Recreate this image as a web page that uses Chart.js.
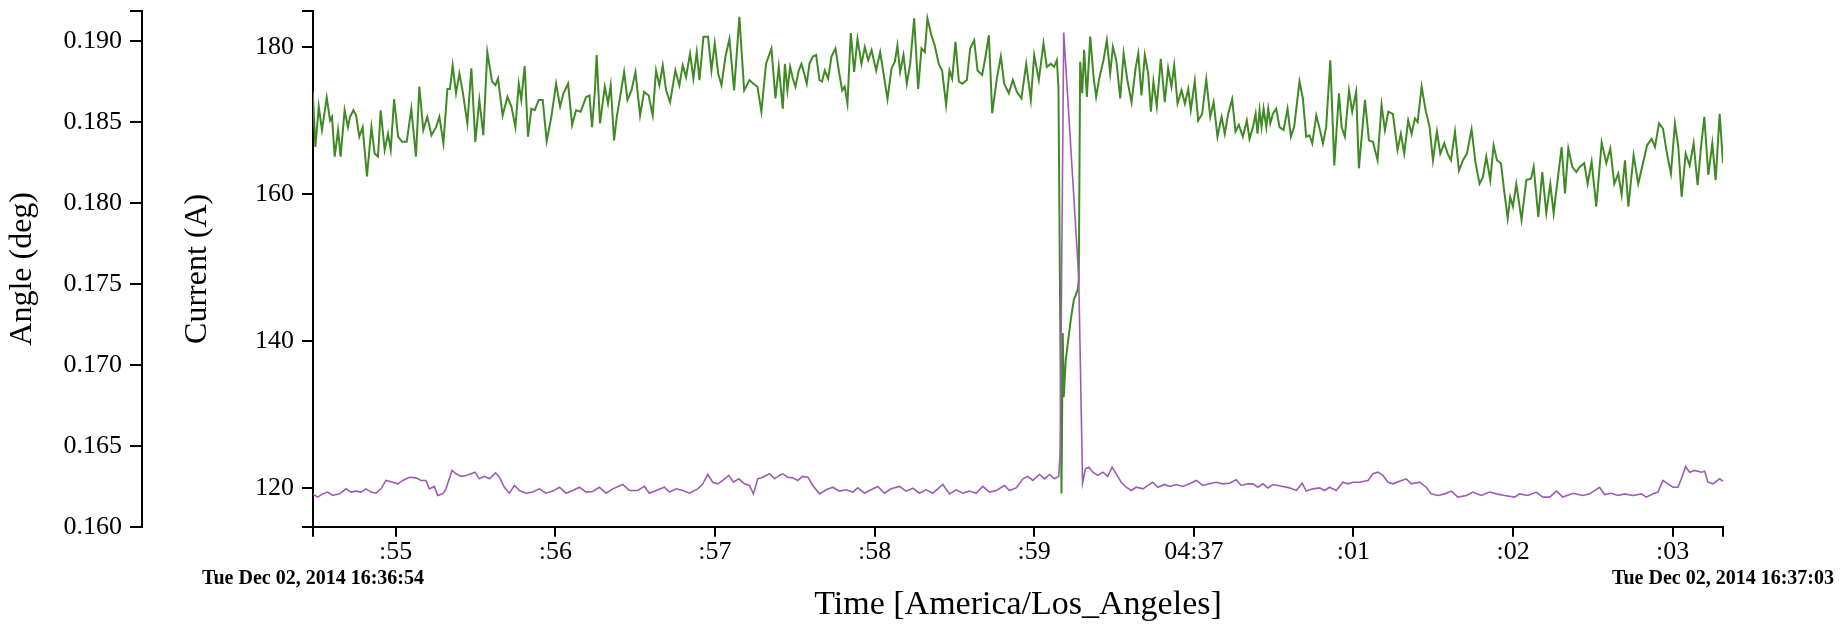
<!DOCTYPE html>
<html>
<head>
<meta charset="utf-8">
<script src="https://cdn.jsdelivr.net/npm/chart.js@4.4.1/dist/chart.umd.min.js"></script>
<style>
html,body{margin:0;padding:0;background:#fff;}
#wrap{width:1842px;height:624px;position:relative;}
</style>
</head>
<body>
<div id="wrap"><canvas id="c" width="1842" height="624"></canvas></div>
<script>
// ---- data (time in seconds after 16:36:00) ----
const xMin = 54.482, xMax = 63.315;
const xTickValues = [55, 56, 57, 58, 59, 60, 61, 62, 63];
const xTickLabels = [':55', ':56', ':57', ':58', ':59', '04:37', ':01', ':02', ':03'];
const dateLabels = ['Tue Dec 02, 2014 16:36:54', 'Tue Dec 02, 2014 16:37:03'];

const currentMin = 114.78, currentMax = 184.89;
const currentTicks = [120, 140, 160, 180];
const angleMin = 0.160, angleMax = 0.19188;
const angleTicks = [0.160, 0.165, 0.170, 0.175, 0.180, 0.185, 0.190];

const currentTimes = [
54.480,54.497,54.518,54.538,54.568,54.589,54.601,54.618,54.639,54.655,54.680,54.701,54.714,54.735,54.752,54.772,54.793,54.820,54.848,54.868,
54.889,54.906,54.931,54.952,54.969,54.990,55.015,55.040,55.069,55.098,55.127,55.148,55.173,55.198,55.224,55.253,55.274,55.299,55.324,55.340,
55.357,55.378,55.399,55.420,55.449,55.474,55.499,55.524,55.549,55.574,55.604,55.625,55.641,55.670,55.700,55.725,55.750,55.771,55.787,55.808,
55.829,55.850,55.871,55.896,55.921,55.946,55.975,56.005,56.030,56.051,56.080,56.105,56.130,56.159,56.193,56.214,56.230,56.247,56.259,56.280,
56.310,56.330,56.347,56.368,56.385,56.406,56.431,56.452,56.477,56.502,56.531,56.556,56.585,56.610,56.631,56.652,56.673,56.694,56.719,56.752,
56.777,56.798,56.819,56.844,56.865,56.886,56.903,56.928,56.957,56.978,56.999,57.020,57.041,57.066,57.091,57.120,57.153,57.183,57.216,57.241,
57.266,57.291,57.320,57.354,57.379,57.400,
57.425,57.438,57.454,57.471,57.488,57.504,57.525,57.542,57.559,57.575,57.592,57.613,57.634,57.655,57.671,57.688,57.709,57.730,57.755,57.776,
57.797,57.813,57.830,57.851,57.872,57.893,57.918,57.939,57.960,57.981,58.010,58.035,58.056,58.081,58.106,58.127,58.143,58.160,58.181,58.202,
58.223,58.248,58.273,58.294,58.315,58.331,58.356,58.377,58.402,58.423,58.448,58.469,58.486,58.507,58.528,58.549,58.578,58.599,58.624,58.645,
58.674,58.695,58.716,58.737,58.766,58.791,58.812,58.841,58.866,58.891,58.920,58.950,58.979,59.000,59.029,59.058,59.079,59.104,59.125,59.142,
59.152,59.171,59.179,59.185,59.198,59.211,59.229,59.248,59.273,59.279,59.288,59.301,59.313,59.330,59.351,59.372,59.388,59.409,59.434,59.455,
59.476,59.493,59.514,59.539,59.560,59.585,59.610,59.635,59.652,59.672,59.693,59.714,59.731,59.747,59.768,59.793,59.818,59.839,59.860,59.877,
59.898,59.923,59.944,59.965,59.981,60.006,60.027,60.052,60.078,60.103,60.124,60.148,60.174,60.194,60.215,60.240,60.261,60.282,60.307,60.332,
60.349,60.370,
60.387,60.399,60.412,60.424,60.437,60.454,60.466,60.479,60.495,60.516,60.537,60.562,60.587,60.608,60.629,60.662,60.683,60.704,60.725,60.742,
60.767,60.788,60.809,60.829,60.855,60.880,60.909,60.926,60.946,60.972,60.992,61.017,61.034,61.072,61.097,61.122,61.151,61.176,61.197,61.218,
61.247,61.276,61.297,61.318,61.343,61.364,61.385,61.402,61.427,61.452,61.477,61.498,61.523,61.544,61.569,61.590,61.611,61.636,61.661,61.686,
61.711,61.740,61.765,61.790,61.811,61.832,61.857,61.878,61.899,61.924,61.945,61.966,61.982,61.999,62.020,62.053,62.083,62.112,62.129,62.158,
62.183,62.208,62.233,62.254,62.279,62.304,62.325,62.346,62.371,62.396,62.417,62.446,62.467,62.492,62.521,62.555,62.584,62.609,62.634,62.659,
62.680,62.701,62.722,62.755,62.784,62.818,62.839,62.868,62.889,62.914,62.939,62.964,62.989,63.014,63.035,63.056,63.081,63.106,63.131,63.156,
63.177,63.198,63.223,63.248,63.269,63.294,63.315
];
const currentValues = [
174.1,166.4,171.9,168.7,173.1,170.0,170.5,165.1,168.7,165.1,171.4,169.1,170.5,171.4,170.7,167.8,169.1,162.4,169.1,165.5,
165.1,171.4,166.0,168.2,166.0,172.9,167.8,167.1,167.1,171.6,165.1,174.6,168.7,170.5,168.0,169.1,170.5,166.9,174.3,174.3,
177.5,173.7,176.4,173.9,169.6,177.1,167.1,172.8,168.0,179.3,175.3,174.8,175.7,170.7,173.2,171.9,169.1,175.0,172.8,177.4,
167.8,171.6,171.4,172.8,172.8,167.2,170.5,175.0,171.9,173.7,175.0,169.4,171.4,171.2,173.2,173.4,169.1,173.7,178.9,169.6,
174.6,172.3,174.8,167.3,170.5,173.2,176.6,172.8,174.1,176.6,170.7,173.9,173.4,170.7,176.8,174.8,177.5,174.1,172.5,176.8,
174.8,177.5,175.9,179.1,175.7,179.3,175.5,181.4,181.4,176.8,180.5,176.4,174.8,178.7,181.1,174.1,184.1,174.1,175.5,175.0,
174.6,171.2,177.7,179.8,173.0,177.3,
171.6,177.7,174.1,177.3,175.7,174.6,176.8,177.7,176.4,175.0,177.7,178.7,178.9,175.5,175.3,176.8,175.7,178.7,179.8,176.8,
174.1,174.6,172.3,181.9,176.6,181.1,177.7,180.0,178.2,179.6,176.8,179.3,176.4,172.9,177.1,178.0,180.2,176.6,178.9,175.0,
177.7,183.9,174.3,179.8,179.3,183.9,181.6,180.2,177.7,176.8,172.1,176.8,175.7,180.7,175.3,175.0,175.5,179.8,180.9,176.8,
176.2,178.7,181.6,171.0,175.7,178.7,175.0,173.7,175.5,173.9,173.0,177.7,172.8,178.9,175.5,180.5,177.3,177.7,177.3,178.2,
174.5,119.3,141.1,132.4,137.5,139.8,142.9,145.6,147.0,148.3,178.0,173.7,179.6,173.2,181.4,175.9,173.2,175.9,178.2,180.9,
176.4,180.0,178.2,173.0,179.1,175.3,172.5,177.1,179.1,173.4,178.9,176.4,171.2,175.3,171.9,178.4,172.5,177.1,174.6,177.5,
172.3,174.1,172.3,174.3,171.4,175.4,170.0,170.9,175.6,170.5,172.5,167.8,170.5,168.2,170.9,172.9,168.5,169.4,167.8,170.0,
167.5,169.1,
170.9,168.2,171.4,169.1,171.6,169.1,171.6,169.6,170.9,171.6,169.1,168.7,171.6,167.8,169.2,175.3,173.0,167.8,168.0,166.9,
170.7,168.9,166.9,169.1,178.2,163.9,173.7,169.1,167.8,174.1,171.2,173.9,163.5,172.8,167.3,167.1,164.6,172.1,168.7,171.2,
170.9,166.0,168.2,165.5,170.0,168.2,170.3,169.8,174.6,171.4,169.1,164.6,168.5,165.5,166.9,165.5,164.6,168.5,163.2,164.6,
165.5,168.8,164.2,161.4,162.3,165.1,161.9,166.6,164.6,164.2,160.3,156.7,159.6,158.3,161.4,156.5,161.9,162.1,163.7,156.9,
163.0,157.4,161.4,157.4,161.9,166.4,160.1,166.2,163.7,163.0,163.7,164.2,161.4,164.4,158.3,167.0,164.2,166.2,161.4,162.8,
159.9,164.6,158.3,165.3,161.4,164.6,166.6,167.5,166.4,169.6,168.9,165.5,162.8,169.6,166.4,159.6,165.5,163.9,166.9,161.2,
166.4,170.5,162.6,166.9,161.9,170.9,164.2
];

const angleTimes = [
54.480,54.511,54.543,54.574,54.605,54.647,54.689,54.720,54.752,54.783,54.814,54.846,54.877,54.908,54.939,54.981,55.013,55.044,55.086,55.127,
55.159,55.190,55.211,55.242,55.263,55.295,55.315,55.353,55.378,55.409,55.441,55.472,55.497,55.524,55.556,55.587,55.625,55.650,55.681,55.712,
55.744,55.775,55.817,55.858,55.900,55.942,55.984,56.026,56.067,56.109,56.151,56.193,56.234,56.276,56.318,56.360,56.422,56.464,56.516,56.558,
56.589,56.631,56.683,56.715,56.757,56.798,56.840,56.892,56.924,56.955,56.986,57.018,57.049,57.087,57.116,57.149,57.185,57.216,57.241,57.268,
57.300,57.341,57.373,57.404,57.425,
57.456,57.488,57.519,57.550,57.582,57.613,57.655,57.697,57.738,57.780,57.822,57.864,57.895,57.937,57.968,58.020,58.062,58.104,58.156,58.198,
58.240,58.281,58.323,58.365,58.428,58.469,58.511,58.553,58.595,58.636,58.678,58.720,58.762,58.814,58.845,58.887,58.929,58.960,58.991,59.033,
59.065,59.096,59.127,59.154,59.162,59.185,59.279,59.303,59.321,59.342,59.367,59.399,59.430,59.461,59.488,59.514,59.545,59.576,59.608,59.639,
59.681,59.712,59.743,59.775,59.816,59.848,59.889,59.931,59.973,60.015,60.057,60.098,60.140,60.182,60.224,60.265,60.297,60.339,60.370,
60.401,60.433,60.464,60.495,60.527,60.558,60.600,60.642,60.679,60.704,60.746,60.788,60.819,60.850,60.892,60.934,60.965,60.997,61.038,61.091,
61.122,61.153,61.185,61.216,61.247,61.289,61.331,61.362,61.414,61.456,61.487,61.529,61.571,61.613,61.654,61.707,61.748,61.801,61.853,61.895,
61.947,62.010,62.041,62.093,62.145,62.187,62.229,62.271,62.312,62.375,62.438,62.479,62.542,62.573,62.615,62.657,62.699,62.751,62.803,62.835,
62.876,62.908,62.939,62.970,63.002,63.033,63.054,63.081,63.106,63.137,63.179,63.200,63.221,63.252,63.294,63.315
];
const angleValues = [
.16203,.16183,.16203,.16214,.16193,.16203,.16234,.16214,.16220,.16214,.16234,.16214,.16207,.16234,.16286,.16275,.16265,.16286,.16306,.16302,
.16286,.16286,.16234,.16249,.16193,.16203,.16234,.16348,.16327,.16311,.16317,.16327,.16337,.16296,.16311,.16296,.16333,.16306,.16244,.16207,
.16255,.16224,.16207,.16214,.16234,.16207,.16220,.16244,.16207,.16224,.16244,.16214,.16218,.16244,.16207,.16234,.16261,.16224,.16224,.16249,
.16207,.16224,.16244,.16214,.16234,.16224,.16207,.16234,.16265,.16323,.16275,.16265,.16286,.16317,.16275,.16296,.16265,.16255,.16203,.16296,
.16306,.16327,.16296,.16317,.16327,
.16306,.16302,.16286,.16311,.16306,.16255,.16203,.16228,.16244,.16220,.16228,.16214,.16240,.16207,.16224,.16249,.16207,.16234,.16249,.16220,
.16238,.16207,.16228,.16207,.16261,.16203,.16228,.16207,.16220,.16207,.16249,.16214,.16224,.16255,.16224,.16240,.16296,.16311,.16286,.16323,
.16296,.16323,.16296,.16311,.16452,.19055,.17543,.16270,.16358,.16368,.16337,.16317,.16337,.16311,.16368,.16327,.16275,.16244,.16224,.16244,
.16234,.16255,.16275,.16244,.16261,.16249,.16261,.16249,.16265,.16286,.16255,.16265,.16275,.16265,.16269,.16290,.16255,.16265,.16265,
.16244,.16265,.16240,.16261,.16255,.16249,.16240,.16224,.16269,.16220,.16234,.16240,.16224,.16244,.16224,.16275,.16265,.16275,.16275,.16286,
.16327,.16337,.16317,.16275,.16265,.16281,.16296,.16265,.16275,.16244,.16203,.16193,.16203,.16220,.16183,.16193,.16214,.16193,.16214,.16203,
.16193,.16183,.16203,.16193,.16214,.16183,.16183,.16220,.16183,.16207,.16193,.16203,.16244,.16199,.16207,.16193,.16203,.16193,.16203,.16183,
.16203,.16214,.16286,.16265,.16244,.16244,.16296,.16372,.16337,.16348,.16337,.16343,.16275,.16265,.16296,.16281
];

// ---- chart ----
const SERIF = "'Liberation Serif', 'Times New Roman', serif";
const labelFrom = (vals, labels) => (v) => { const i = vals.indexOf(v); return i >= 0 ? labels[i] : ''; };
const noPad = (w, h) => (s) => {
  if (w !== null) s.width = w;
  if (h !== null) s.height = h;
  s.paddingTop = 0; s.paddingBottom = 0; s.paddingLeft = 0; s.paddingRight = 0;
};

new Chart(document.getElementById('c'), {
  type: 'line',
  data: {
    datasets: [
      {
        label: 'Angle',
        yAxisID: 'angle',
        xAxisID: 'x',
        data: angleTimes.map((t, i) => ({ x: t, y: angleValues[i] })),
        borderColor: '#9d5cb3',
        borderWidth: 1.6,
        pointRadius: 0,
        tension: 0,
        fill: false
      },
      {
        label: 'Current',
        yAxisID: 'current',
        xAxisID: 'x',
        data: currentTimes.map((t, i) => ({ x: t, y: currentValues[i] })),
        borderColor: '#3f8a25',
        borderWidth: 2,
        pointRadius: 0,
        tension: 0,
        fill: false
      }
    ]
  },
  options: {
    responsive: false,
    animation: false,
    devicePixelRatio: 1,
    layout: { padding: { left: 0, right: 119, top: 11, bottom: 0 } },
    plugins: { legend: { display: false }, tooltip: { enabled: false }, title: { display: false } },
    scales: {
      x: {
        type: 'linear', position: 'bottom', weight: 0, min: xMin, max: xMax,
        grid: { drawOnChartArea: false, drawTicks: true, tickLength: 10, color: '#000', lineWidth: 2 },
        border: { display: true, color: '#000', width: 2 },
        ticks: { font: { family: SERIF, size: 26 }, color: '#000', padding: 0, autoSkip: false, maxRotation: 0,
                 callback: labelFrom(xTickValues, xTickLabels) },
        afterBuildTicks: (s) => { s.ticks = [xMin].concat(xTickValues, [xMax]).map(v => ({ value: v })); },
        afterFit: noPad(null, 40)
      },
      x2: {
        type: 'linear', position: 'bottom', weight: 1, min: xMin, max: xMax,
        grid: { display: false, drawTicks: false, drawOnChartArea: false },
        border: { display: false },
        ticks: { font: { family: SERIF, size: 20, weight: 'bold' }, color: '#000', padding: 0, autoSkip: false, maxRotation: 0,
                 callback: labelFrom([xMin, xMax], dateLabels) },
        afterBuildTicks: (s) => { s.ticks = [xMin, xMax].map(v => ({ value: v })); },
        title: { display: true, text: 'Time [America/Los_Angeles]', color: '#000',
                 font: { family: SERIF, size: 34, lineHeight: 1 }, padding: { top: 0, bottom: 2 } },
        afterFit: noPad(null, 57.3)
      },
      current: {
        type: 'linear', position: 'left', weight: 0, min: currentMin, max: currentMax,
        grid: { drawOnChartArea: false, drawTicks: true, tickLength: 11, color: '#000', lineWidth: 2 },
        border: { display: true, color: '#000', width: 2 },
        ticks: { font: { family: SERIF, size: 26 }, color: '#000', padding: 8, autoSkip: false,
                 callback: labelFrom(currentTicks, currentTicks.map(String)) },
        afterBuildTicks: (s) => { s.ticks = [currentMin].concat(currentTicks, [currentMax]).map(v => ({ value: v })); },
        title: { display: true, text: 'Current (A)', color: '#000',
                 font: { family: SERIF, size: 32, lineHeight: 1 }, padding: { top: 40, bottom: 0 } },
        afterFit: noPad(171, null)
      },
      angle: {
        type: 'linear', position: 'left', weight: 1, min: angleMin, max: angleMax,
        grid: { drawOnChartArea: false, drawTicks: true, tickLength: 12, color: '#000', lineWidth: 2 },
        border: { display: true, color: '#000', width: 2 },
        ticks: { font: { family: SERIF, size: 26 }, color: '#000', padding: 8, autoSkip: false,
                 callback: labelFrom(angleTicks, angleTicks.map(v => v.toFixed(3))) },
        afterBuildTicks: (s) => { s.ticks = angleTicks.concat([angleMax]).map(v => ({ value: v })); },
        title: { display: true, text: 'Angle (deg)', color: '#000',
                 font: { family: SERIF, size: 32, lineHeight: 1 }, padding: { top: 7, bottom: 0 } },
        afterFit: noPad(142, null)
      }
    }
  }
});
</script>
</body>
</html>
